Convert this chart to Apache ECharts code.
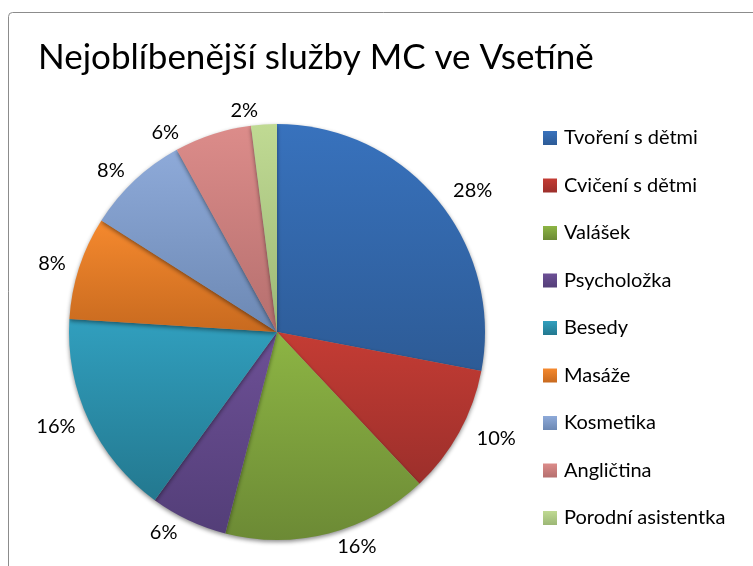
<!DOCTYPE html>
<html lang="cs">
<head>
    <meta charset="UTF-8">
    <title>Nejoblíbenější služby MC ve Vsetíně</title>
    <script src="https://cdn.jsdelivr.net/npm/echarts@6/dist/echarts.min.js"></script>
    <style>
        *{
            margin: 0;
            padding: 0;
        }
        html,body{
            width: 100%;
            height: 100%;
            overflow: hidden;
            background: #fff;
        }
        .container{
            width: 753px;
            height: 566px;
        }
    </style>
</head>
<body>
<div class="container"></div>
<script>
    // data
    const categories = ['Tvoření s dětmi', 'Cvičení s dětmi', 'Valášek', 'Psycholožka', 'Besedy',
        'Masáže', 'Kosmetika', 'Angličtina', 'Porodní asistentka'];
    const values = [28, 10, 16, 6, 16, 8, 8, 6, 2];
    // top / bottom colour of each slice gradient
    const colorsTop = ['#3872bd', '#c43c34', '#8db544', '#6d5096', '#319fbe', '#f5892e', '#8eaad9', '#dc8c8a', '#c0da93'];
    const colorsBottom = ['#2d5b96', '#9c2f2b', '#6c8a35', '#533e78', '#23788f', '#c86a1f', '#6c88b3', '#b56f6e', '#9cb776'];

    const font = 'Lato, "Liberation Sans", sans-serif';

    window.onload = function () {
        let chart = echarts.init(document.querySelector('.container'), null, {renderer: 'canvas'});

        let grad = i => new echarts.graphic.LinearGradient(0, 0, 0, 1, [
            {offset: 0, color: colorsTop[i]},
            {offset: 1, color: colorsBottom[i]}
        ]);

        let pieData = categories.map((name, i) => ({
            name,
            value: values[i],
            itemStyle: {color: grad(i)}
        }));

        let options = {
            animation: false,
            title: {
                text: 'Nejoblíbenější služby MC ve Vsetíně',
                left: 33,
                top: 35,
                textStyle: {
                    fontFamily: font,
                    fontSize: 35,
                    fontWeight: 'normal',
                    color: '#000'
                }
            },
            legend: {
                orient: 'vertical',
                left: 538,
                top: 123,
                itemWidth: 14,
                itemHeight: 14,
                itemGap: 27.5,
                icon: 'rect',
                data: categories,
                textStyle: {
                    fontFamily: font,
                    fontSize: 20,
                    color: '#000',
                    padding: [0, 0, 0, 2]
                }
            },
            graphic: [{
                type: 'rect',
                shape: {x: 8.5, y: 12.5, width: 780, height: 600, r: 4},
                style: {fill: 'none', stroke: '#8c8c8c', lineWidth: 1}
            }],
            series: [{
                type: 'pie',
                center: [277, 332],
                radius: 208,
                startAngle: 90,
                clockwise: true,
                data: pieData,
                label: {
                    show: true,
                    position: 'outside',
                    formatter: '{c}%',
                    fontFamily: font,
                    fontSize: 20,
                    color: '#000'
                },
                labelLine: {
                    show: false,
                    length: 14,
                    length2: 0
                },
                itemStyle: {
                    borderWidth: 0,
                    shadowBlur: 4,
                    shadowOffsetY: 2,
                    shadowColor: 'rgba(0,0,0,0.45)'
                },
                emphasis: {disabled: true}
            }],
            color: categories.map((c, i) => grad(i))
        };

        chart.setOption(options);
    }
</script>
</body>
</html>
